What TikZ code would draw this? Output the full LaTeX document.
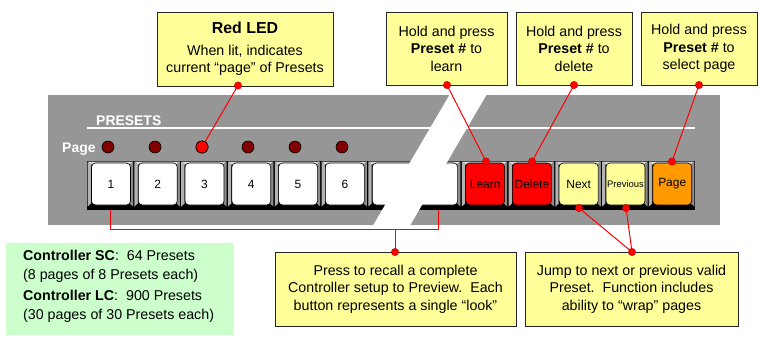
\documentclass[tikz,border=0pt]{standalone}
\usepackage{fontspec}
\setmainfont{Liberation Sans}
\usetikzlibrary{shadows}
\definecolor{panelgray}{HTML}{969696}
\definecolor{noteyellow}{HTML}{FFFF99}
\definecolor{notegreen}{HTML}{CCFFCC}
\definecolor{ledoff}{HTML}{800000}
\definecolor{ledon}{HTML}{FF0000}
\definecolor{keyred}{HTML}{FF0000}
\definecolor{keyorange}{HTML}{FF9900}
\definecolor{wirered}{HTML}{FF0000}
\begin{document}
\begin{tikzpicture}[x=1bp,y=-1bp,
  callout/.style={draw=black!85, line width=0.8bp, fill=noteyellow, align=center,
    inner sep=0pt, font=\fontsize{14.3}{17.5}\selectfont,
    drop shadow={shadow xshift=1.2bp, shadow yshift=-1.2bp, fill=black!35, opacity=1}},
  led/.style={circle, draw=black, line width=0.6bp, fill=ledoff, minimum size=12bp, inner sep=0pt},
  keyface/.style={draw=black, line width=0.6bp, rounded corners=4bp, minimum height=42bp,
    inner sep=0pt, font=\fontsize{12}{14}\selectfont},
  wire/.style={draw=wirered, line width=1bp},
  wiredot/.style={circle, fill=wirered, draw=red!70!black, line width=0.3bp, minimum size=7.5bp, inner sep=0pt},
  paneltext/.style={text=white, font=\fontsize{14}{16}\selectfont\bfseries, inner sep=0pt, anchor=base west}
]
\useasboundingbox (0,0) rectangle (759,339);
\fill[white] (0,0) rectangle (759,339);

% control panel
\fill[panelgray] (48,95) rectangle (720,225);
\node[paneltext] (presetslbl) at (96,125) {PRESETS};
\draw[white, line width=1.3bp] (87,128) -- (695,128);
\node[paneltext] (pagelbl) at (62,152) {Page};

% page LEDs
\foreach \i/\x in {1/108,2/155,3/202,4/248,5/295,6/342}
  \node[led] (led\i) at (\x,147) {};
\node[led, fill=ledon] at (led3) {};

% key bezels: 13 cells, the 7th key spans two cells
\def\kw{46.77}
\foreach \a/\b in {0/1,1/2,2/3,3/4,4/5,5/6,6/8,8/9,9/10,10/11,11/12,12/13}{
  \pgfmathsetmacro\xa{87+\a*\kw}
  \pgfmathsetmacro\xb{87+\b*\kw}
  \fill[black] (\xa,161) rectangle (\xb,209.5);
  \fill[black!15] (\xa+0.7,161.6) -- (\xb-0.7,161.6) -- (\xb-4,164.5) -- (\xa+4,164.5) -- cycle;
  \fill[black!30] (\xa+0.7,161.6) -- (\xa+4,164.5) -- (\xa+4,203.5) -- (\xa+0.7,206.5) -- cycle;
  \fill[black!45] (\xb-0.7,161.6) -- (\xb-4,164.5) -- (\xb-4,203.5) -- (\xb-0.7,206.5) -- cycle;
}

% key faces
\foreach \n/\c/\t in {1/1/1,2/2/2,3/3/3,4/4/4,5/5/5,6/6/6}
  \node[keyface, fill=white, minimum width=39bp] (key\n) at ({87+(\c-0.5)*\kw+0.6},184) {\t};
\node[keyface, fill=white, minimum width={2*\kw-8}] (keywide) at ({87+7*\kw+0.6},184) {};
\node[keyface, fill=keyred, minimum width=39bp] (learn) at ({87+8.5*\kw+0.6},184) {Learn};
\node[keyface, fill=keyred, minimum width=39bp] (delete) at ({87+9.5*\kw+0.6},184) {Delete};
\node[keyface, fill=noteyellow, minimum width=39bp] (next) at ({87+10.5*\kw+0.6},184) {Next};
\node[keyface, fill=noteyellow, minimum width=39bp, font=\fontsize{9.5}{11}\selectfont] (prev) at ({87+11.5*\kw+0.6},184) {Previous};
\node[keyface, fill=keyorange, minimum width=39bp] (page) at ({87+12.5*\kw+0.6},184) {Page};

% break in the panel
\fill[white] (450,94) -- (487,94) -- (410,225.5) -- (373,225.5) -- cycle;

% callouts
\node[callout, minimum width=176bp, minimum height=74bp] (ledbox) at (245,49)
  {{\fontsize{16}{18}\selectfont\bfseries Red LED}\\[4bp]
   When lit, indicates\\ current “page” of Presets};
\node[callout, minimum width=121bp, minimum height=73bp] (learnbox) at (446.5,48.5)
  {Hold and press\\ \textbf{Preset \#} to\\ learn};
\node[callout, minimum width=116bp, minimum height=73bp] (deletebox) at (574,48.5)
  {Hold and press\\ \textbf{Preset \#} to\\ delete};
\node[callout, minimum width=116bp, minimum height=73bp] (pagebox) at (699,48.5)
  {Hold and press\\ \textbf{Preset \#} to\\ select page};
\node[callout, minimum width=241bp, minimum height=74bp] (recallbox) at (395.5,289)
  {Press to recall a complete\\ Controller setup to Preview.\ \ Each\\ button represents a single “look”};
\node[callout, minimum width=213bp, minimum height=74bp] (jumpbox) at (631.5,289)
  {Jump to next or previous valid\\ Preset.\ \ Function includes\\ ability to “wrap” pages};

% capacity note
\fill[notegreen] (6,243) rectangle (234,335);
\node[anchor=north west, align=left, inner sep=0pt, font=\fontsize{14.3}{19}\selectfont] (capnote) at (23,250)
  {\textbf{Controller SC}:\ \ 64 Presets\\ (8 pages of 8 Presets each)\\[2bp]
   \textbf{Controller LC}:\ \ 900 Presets\\ (30 pages of 30 Presets each)};

% connectors
\coordinate (ledtip) at (238,85.5);
\coordinate (learntip) at (447,85);
\coordinate (deletetip) at (574,85);
\coordinate (pagetip) at (699,85);
\coordinate (learnend) at (486,161.5);
\coordinate (deleteend) at (532,161.5);
\coordinate (pageend) at (672,161.5);
\coordinate (nextend) at (579,208);
\coordinate (prevend) at (626,208);
\coordinate (jumptip) at (632,252);
\coordinate (recalltip) at (395,252);
\coordinate (bracketL) at (110,210);
\coordinate (bracketR) at (438,210);
\coordinate (bracketM) at (395,229);

\draw[wire] (ledtip) -- (led3);
\node[led, fill=ledon] at (led3) {};
\draw[wire] (learntip) -- (learnend);
\draw[wire] (deletetip) -- (deleteend);
\draw[wire] (pagetip) -- (pageend);
\draw[wire] (nextend) -- (jumptip) -- (prevend);
\draw[wire] (bracketL) |- (bracketM) -- (recalltip);
\draw[wire] (bracketM) -| (bracketR);

\foreach \p in {ledtip,learntip,deletetip,pagetip,learnend,deleteend,pageend,nextend,prevend,jumptip,recalltip}
  \node[wiredot] at (\p) {};
\end{tikzpicture}
\end{document}
